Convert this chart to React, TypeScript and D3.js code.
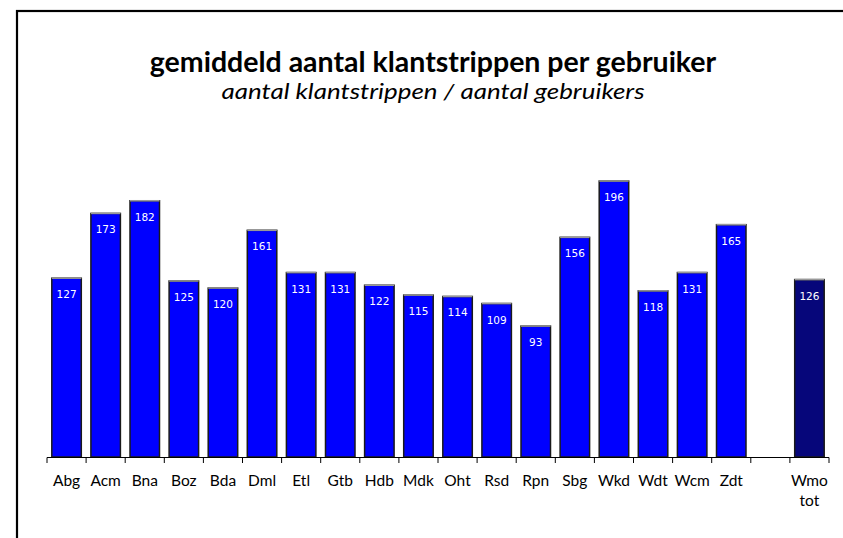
import React from "react";
import * as d3 from "d3";

const categories = ["Abg","Acm","Bna","Boz","Bda","Dml","Etl","Gtb","Hdb","Mdk","Oht","Rsd","Rpn","Sbg","Wkd","Wdt","Wcm","Zdt","","Wmo tot"];
const values: (number | null)[] = [127,173,182,125,120,161,131,131,122,115,114,109,93,156,196,118,131,165,null,126];
const totalCategory = "Wmo tot";
const title = "gemiddeld aantal klantstrippen per gebruiker";
const subtitle = "aantal klantstrippen / aantal gebruikers";

export default function App() {
  const W = 843, H = 538;
  const x = d3.scaleBand<string>().domain(categories.map((c, i) => String(i))).range([47, 829]).paddingInner(0).paddingOuter(0);
  const step = x.step();
  const y = d3.scaleLinear().domain([0, 200]).range([457, 175.4]);
  const font = "Lato, 'Open Sans', sans-serif";
  const ticks = d3.range(categories.length + 1).map(i => 47 + i * step);
  return (
    <svg width={W} height={H} style={{ position: "absolute", left: 0, top: 0, background: "#fff" }}>
      <rect x={17} y={11} width={900} height={600} fill="none" stroke="#000" strokeWidth={2.2} />
      <text x={433} y={72} textAnchor="middle" fontFamily={font} fontWeight="bold" fontSize={28.5} fill="#000">{title}</text>
      <text x={433} y={99} textAnchor="middle" fontFamily={font} fontStyle="italic" fontSize={22} fill="#000" textLength={423} lengthAdjust="spacingAndGlyphs">{subtitle}</text>
      {values.map((v, i) => {
        if (v == null) return null;
        const bx = (x(String(i)) as number) + 4.8;
        const bw = step - 9.6;
        const top = y(v);
        const isTot = categories[i] === totalCategory;
        return (
          <g key={i}>
            <rect x={bx} y={top} width={bw} height={y(0) - top} fill={isTot ? "#06067a" : "#0000ff"} stroke="#1a1a1a" strokeWidth={1.5} />
            <line x1={bx} x2={bx + bw} y1={top} y2={top} stroke="#999" strokeWidth={1.5} />
            <text x={bx + bw / 2} y={top + 20} textAnchor="middle" fontFamily="'DejaVu Sans', Verdana, sans-serif" fontSize={10.5} fill="#fff">{v}</text>
          </g>
        );
      })}
      <line x1={47} x2={829} y1={457.5} y2={457.5} stroke="#000" strokeWidth={1} />
      {ticks.map((t, i) => (
        <line key={i} x1={t} x2={t} y1={457.5} y2={463} stroke="#000" strokeWidth={1} />
      ))}
      {categories.map((c, i) => {
        const cx = (x(String(i)) as number) + step / 2;
        const parts = c.split(" ");
        return (
          <text key={i} x={cx} y={486} textAnchor="middle" fontFamily={font} fontSize={15.5} fill="#000">
            {parts.map((p, j) => (
              <tspan key={j} x={cx} dy={j === 0 ? 0 : 20}>{p}</tspan>
            ))}
          </text>
        );
      })}
    </svg>
  );
}
